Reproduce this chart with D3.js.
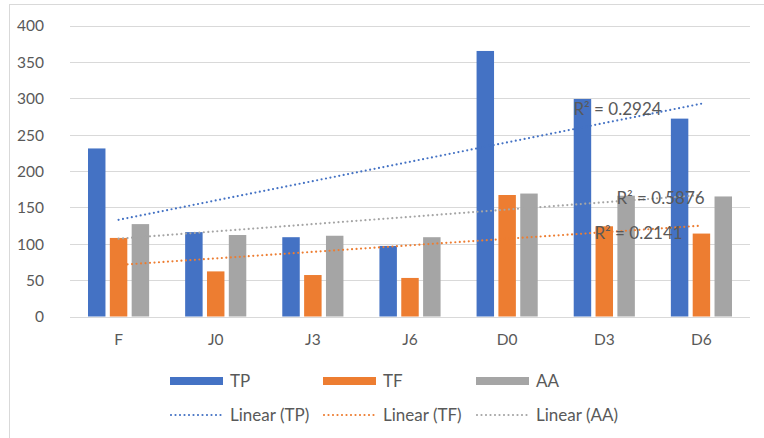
<!DOCTYPE html>
<html><head><meta charset="utf-8">
<script src="https://cdn.jsdelivr.net/npm/d3@7"></script>
<style>body{margin:0;background:#fff}svg{display:block}text{font-family:Lato,"Open Sans",sans-serif;fill:#595959}</style>
</head><body>
<script>
const categories = ["F","J0","J3","J6","D0","D3","D6"];
const seriesNames = ["TP","TF","AA"];
const TP = [231,116,109,97,365,299,272];
const TF = [108,62,57,53,167,124,114];
const AA = [127,112,111,109,169,166,165];
const colors = ["#4472C4","#ED7D31","#A5A5A5"];
const yTicks = [0,50,100,150,200,250,300,350,400];
const r2Labels = ["R² = 0.2924","R² = 0.2141","R² = 0.5876"];
const r2Offsets = [[-128,5],[-107,7],[-85,3]];

const W=764,H=438;
const svg=d3.select("body").append("svg").attr("width",W).attr("height",H);
svg.append("rect").attr("x",9.5).attr("y",4.5).attr("width",W).attr("height",H).attr("fill","none").attr("stroke","#d9d9d9");

const x=d3.scaleBand().domain(categories).range([70,750]);
const y=d3.scaleLinear().domain([0,400]).range([316.5,25.5]);
const data=[TP,TF,AA];

svg.append("g").selectAll("line").data(yTicks).join("line")
  .attr("x1",70).attr("x2",750).attr("y1",d=>Math.round(y(d))+0.5).attr("y2",d=>Math.round(y(d))+0.5)
  .attr("stroke","#d9d9d9").attr("stroke-width",1);

const yAxis=d3.axisLeft(y).tickValues(yTicks).tickSize(0).tickPadding(0);
const gy=svg.append("g").attr("transform","translate(44,0)").call(yAxis);
gy.select(".domain").remove();
gy.selectAll("text").attr("font-size",15.5).style("font-family","Lato").attr("fill","#595959").attr("dy","0.35em");

const xAxis=d3.axisBottom(x).tickSize(0).tickPadding(0);
const gx=svg.append("g").attr("transform","translate(0,340)").call(xAxis);
gx.select(".domain").remove();
gx.selectAll("text").attr("font-size",15.5).style("font-family","Lato").attr("fill","#595959").attr("dy","0.35em");

const inner=d3.scaleBand().domain([0,1,2]).range([18,x.bandwidth()-18]).paddingInner(0.2);
data.forEach((vals,si)=>{
  svg.append("g").selectAll("rect").data(vals).join("rect")
    .attr("x",(d,i)=>x(categories[i])+inner(si))
    .attr("width",inner.bandwidth())
    .attr("y",d=>y(d)).attr("height",d=>y(0)-y(d))
    .attr("fill",colors[si]);
});

function fit(vals){
  const n=vals.length, xs=vals.map((d,i)=>i+1);
  const mx=d3.mean(xs), my=d3.mean(vals);
  const b=d3.sum(xs.map((xx,i)=>(xx-mx)*(vals[i]-my)))/d3.sum(xs.map(xx=>(xx-mx)**2));
  return [my+b*(1-mx), my+b*(n-mx)];
}
const cx=c=>x(c)+x.bandwidth()/2;
data.forEach((vals,si)=>{
  const [a,b]=fit(vals);
  const x1=cx(categories[0]), x2=cx(categories[categories.length-1]);
  svg.append("line").attr("x1",x1).attr("x2",x2).attr("y1",y(a)).attr("y2",y(b))
    .attr("stroke",colors[si]).attr("stroke-width",2.2).attr("stroke-linecap","round").attr("stroke-dasharray","0,4.5");
  svg.append("text").attr("x",x2+r2Offsets[si][0]).attr("y",y(b)+r2Offsets[si][1]).attr("dy","0.35em")
    .attr("font-size",17).attr("fill","#595959").text(r2Labels[si]);
});

const lg=svg.append("g");
const lx=[170,323,476];
seriesNames.forEach((s,i)=>{
  lg.append("rect").attr("x",lx[i]).attr("y",377).attr("width",53).attr("height",8).attr("fill",colors[i]);
  lg.append("text").attr("x",lx[i]+60).attr("y",381).attr("dy","0.35em").attr("font-size",17).text(s);
  lg.append("line").attr("x1",lx[i]+1).attr("x2",lx[i]+52).attr("y1",415).attr("y2",415)
    .attr("stroke",colors[i]).attr("stroke-width",2.2).attr("stroke-linecap","round").attr("stroke-dasharray","0,4.5");
  lg.append("text").attr("x",lx[i]+60).attr("y",415).attr("dy","0.35em").attr("font-size",17).text("Linear ("+s+")");
});
</script>
</body></html>
